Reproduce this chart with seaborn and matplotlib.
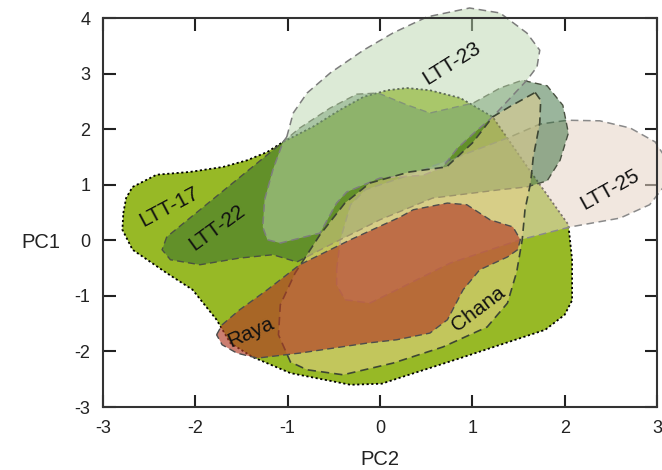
import matplotlib
matplotlib.use("Agg")
import matplotlib.pyplot as plt
import seaborn as sns

# Hull outlines (PC2 = x, PC1 = y)
ltt17_x = [-2.78, -2.75, -2.68, -2.42, -2.06, -1.70, -1.44, -1.22, -1.05, -0.73, -0.43, -0.18, 0.08, 0.29, 0.54,
           0.87, 1.22, 1.62, 2.04, 2.08, 2.08, 2.00, 1.79, 0.87, 0.22, 0.02, -0.32, -0.97, -1.38, -1.62, -1.77,
           -2.03, -2.31, -2.68, -2.79]
ltt17_y = [0.49, 0.76, 0.96, 1.18, 1.23, 1.32, 1.44, 1.59, 1.77, 2.04, 2.35, 2.58, 2.70, 2.74, 2.70,
           2.56, 2.22, 1.26, 0.28, -0.35, -1.08, -1.34, -1.61, -2.12, -2.47, -2.58, -2.60, -2.39, -2.10, -1.85, -1.43,
           -0.89, -0.59, -0.17, 0.19]

ltt25_x = [-0.47, -0.43, -0.32, -0.16, 0.22, 0.76, 1.41, 1.73, 2.03, 2.38, 2.71, 2.98, 3.12, 3.09, 2.92,
           2.60, 2.06, 1.52, 0.76, 0.22, -0.11, -0.38, -0.47]
ltt25_y = [-0.53, 0.01, 0.64, 0.91, 1.12, 1.45, 1.86, 2.09, 2.16, 2.15, 2.02, 1.77, 1.41, 1.00, 0.64,
           0.40, 0.24, 0.01, -0.41, -0.86, -1.13, -1.07, -0.80]

ltt22_x = [-2.31, -2.36, -2.27, -1.95, -1.52, -1.16, -0.90, -0.54, 0.00, 0.57, 1.30, 1.59, 1.81, 1.95, 2.04,
           1.98, 1.81, 1.54, 1.30, 1.01, 0.54, 0.27, -0.02, -0.25, -0.54, -0.87, -1.05]
ltt22_y = [0.06, -0.17, -0.35, -0.44, -0.32, -0.26, -0.39, -0.08, 0.37, 0.76, 0.91, 0.96, 1.07, 1.44, 1.93,
           2.43, 2.78, 2.88, 2.74, 2.47, 2.29, 2.45, 2.65, 2.63, 2.38, 2.02, 1.77]

ltt23_x = [-1.01, -0.94, -0.79, -0.54, -0.18, 0.14, 0.51, 0.97, 1.30, 1.59, 1.73, 1.70, 1.59, 1.22, 1.03,
           0.84, 0.68, 0.47, 0.00, -0.36, -0.47, -0.65, -1.08, -1.22, -1.27, -1.25, -1.16, -1.05]
ltt23_y = [1.86, 2.29, 2.65, 3.01, 3.42, 3.73, 4.02, 4.18, 4.09, 3.73, 3.42, 3.12, 2.88, 2.22, 1.95,
           1.66, 1.32, 1.17, 1.12, 0.87, 0.67, 0.13, -0.05, 0.01, 0.24, 0.73, 1.27, 1.77]

chana_x = [1.68, 1.74, 1.73, 1.66, 1.63, 1.57, 1.54, 1.48, 1.38, 1.16, 0.68, 0.14, -0.40, -0.79, -0.97,
           -1.10, -1.08, -0.92, -0.65, -0.38, -0.11, 0.32, 0.72, 1.00, 1.22, 1.40]
chana_y = [2.66, 2.52, 2.11, 1.50, 1.03, 0.55, 0.01, -0.57, -1.13, -1.56, -1.92, -2.21, -2.42, -2.33, -2.19,
           -1.70, -1.16, -0.59, 0.10, 0.67, 1.03, 1.23, 1.32, 1.75, 2.22, 2.40]

raya_x = [-1.77, -1.71, -1.52, -1.22, -0.87, -0.32, 0.22, 0.36, 0.73, 0.94, 1.19, 1.44, 1.52, 1.49, 1.38,
          1.08, 0.90, 0.73, 0.54, 0.18, -0.14, -0.87, -1.33, -1.55, -1.71]
raya_y = [-1.70, -1.52, -1.25, -0.89, -0.44, 0.01, 0.42, 0.55, 0.67, 0.64, 0.37, 0.24, 0.01, -0.17, -0.30,
          -0.53, -0.89, -1.43, -1.67, -1.79, -1.85, -2.03, -2.12, -2.03, -1.88]

labels = ["LTT-17", "LTT-22", "LTT-23", "LTT-25", "Raya", "Chana"]
label_x = [-2.28, -1.77, 0.78, 2.49, -1.40, 1.06]
label_y = [0.60, 0.22, 3.19, 0.91, -1.65, -1.24]
label_rot = [28, 36, 32, 29, 24, 37]

sns.set_theme(style="ticks")
plt.rcParams["font.family"] = ["Liberation Sans", "DejaVu Sans"]
plt.rcParams["axes.unicode_minus"] = False

fig = plt.figure(figsize=(6.62, 4.70), dpi=100)
ax = fig.add_axes([0.1556, 0.134, 0.8369, 0.8277])

# drawing order matters for the colour blends
ax.fill(ltt17_x, ltt17_y, facecolor=(151/255, 185/255, 38/255, 1.0), edgecolor="black",
        linestyle=(0, (1.2, 1.4)), lw=1.3, zorder=1, clip_on=False)
ax.fill(ltt25_x, ltt25_y, facecolor=(231/255, 213/255, 198/255, 0.55), edgecolor="#8a8a8a",
        linestyle=(0, (5, 3)), lw=1.1, zorder=2, clip_on=False)
ax.fill(ltt22_x, ltt22_y, facecolor=(40/255, 98/255, 45/255, 0.47), edgecolor="#4a5242",
        linestyle=(0, (5, 3)), lw=1.0, zorder=3, clip_on=False)
ax.fill(ltt23_x, ltt23_y, facecolor=(187/255, 214/255, 174/255, 0.5), edgecolor="#7d7d7d",
        linestyle=(0, (5, 3)), lw=1.1, zorder=4, clip_on=False)
ax.fill(chana_x, chana_y, facecolor=(237/255, 212/255, 146/255, 0.5), edgecolor="#3d4634",
        linestyle=(0, (5, 3)), lw=1.2, zorder=5, clip_on=False)
ax.fill(raya_x, raya_y, facecolor=(178/255, 60/255, 38/255, 0.66), edgecolor="#4d4d4d",
        linestyle=(0, (5, 3)), lw=1.0, zorder=6, clip_on=False)

for t, x, y, r in zip(labels, label_x, label_y, label_rot):
    ax.text(x, y, t, rotation=r, ha="center", va="center", fontsize=15,
            color="#111111", zorder=10, rotation_mode="anchor")

ax.set_xlim(-3, 3)
ax.set_ylim(-3, 4)
ax.set_xticks(range(-3, 4))
ax.set_yticks(range(-3, 5))
ax.tick_params(direction="in", top=True, right=True, length=9, width=1.5,
               labelsize=13, pad=9, colors="#222222")
for s in ax.spines.values():
    s.set_linewidth(1.5)
    s.set_color("#333333")
    s.set_zorder(12)
ax.set_xlabel("PC2", fontsize=14.5, labelpad=10, color="#222222")
ax.set_ylabel("PC1", fontsize=14.5, rotation=0, color="#222222", va="center", ha="center")
ax.yaxis.set_label_coords(-0.113, 0.424)
ax.set_facecolor("white")

fig.savefig("out.png", dpi=100)
